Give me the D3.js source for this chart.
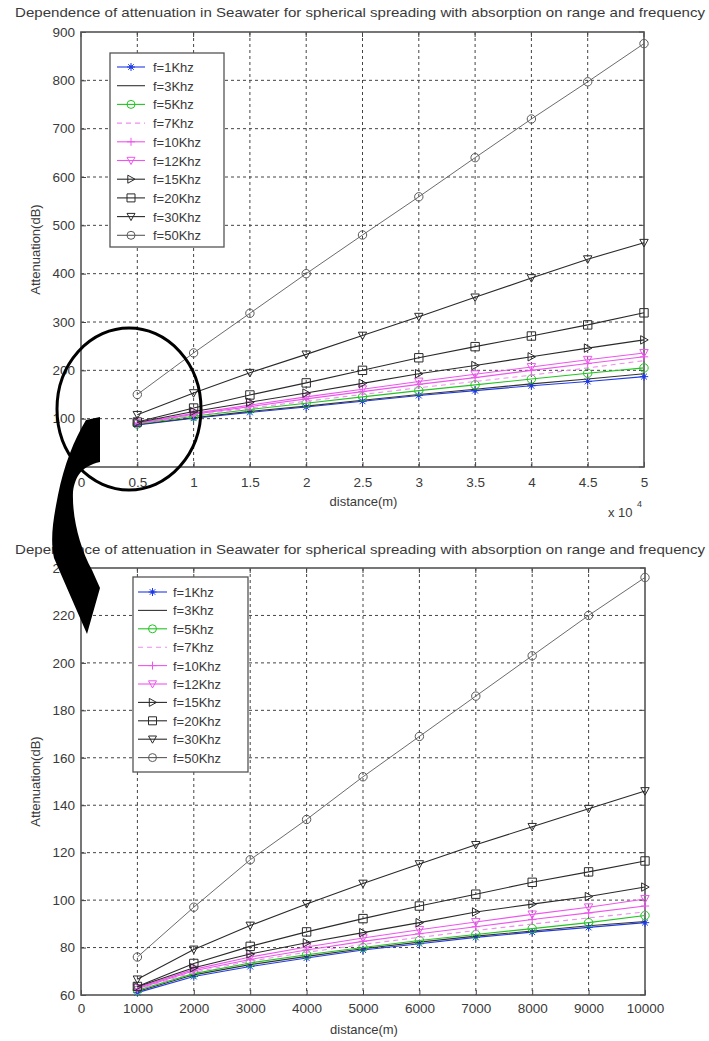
<!DOCTYPE html>
<html>
<head>
<meta charset="utf-8">
<script src="https://cdn.jsdelivr.net/npm/d3@7/dist/d3.min.js"></script>
<style>
  html, body { margin: 0; padding: 0; background: #fff; }
  svg { display: block; }
  text { font-family: "Liberation Sans", Arial, sans-serif; fill: #3a3a3a; }
</style>
</head>
<body>
<script>
// ---- data ----
const titleText = "Dependence of attenuation in Seawater for spherical spreading with absorption on range and frequency";
const freqLabels = ["f=1Khz", "f=3Khz", "f=5Khz", "f=7Khz", "f=10Khz", "f=12Khz", "f=15Khz", "f=20Khz", "f=30Khz", "f=50Khz"];

// upper panel: range 5 km .. 50 km
const topDistance = [5000, 10000, 15000, 20000, 25000, 30000, 35000, 40000, 45000, 50000];
const topF1  = [87, 101, 113, 124, 136, 148, 158, 168, 177, 187];
const topF3  = [88, 102, 115, 126, 138, 150, 161, 172, 182, 193];
const topF5  = [89, 105, 119, 132, 145, 158, 170, 182, 194, 205];
const topF7  = [90, 107, 122, 136, 150, 164, 177, 190, 205, 220];
const topF10 = [90, 109, 125, 141, 156, 171, 185, 200, 214, 228];
const topF12 = [91, 111, 128, 145, 161, 177, 192, 207, 222, 236];
const topF15 = [92, 115, 134, 153, 173, 193, 210, 228, 246, 263];
const topF20 = [93, 122, 149, 174, 200, 226, 249, 271, 294, 319];
const topF30 = [108, 153, 195, 233, 272, 311, 351, 391, 430, 464];
const topF50 = [150, 236, 318, 400, 480, 559, 640, 720, 797, 876];
const topXTicks = [0, 5000, 10000, 15000, 20000, 25000, 30000, 35000, 40000, 45000, 50000];
const topYTicks = [0, 100, 200, 300, 400, 500, 600, 700, 800, 900];

// lower panel: range 1 km .. 10 km
const bottomDistance = [1000, 2000, 3000, 4000, 5000, 6000, 7000, 8000, 9000, 10000];
const botF1  = [61, 67.8, 72, 75.6, 79, 81.6, 84.3, 86.5, 88.5, 90.5];
const botF3  = [61.5, 68.5, 72.8, 76.3, 79.5, 82.3, 84.8, 87.0, 89.2, 91];
const botF5  = [62, 69, 73.5, 77, 80, 83, 85.5, 88, 90.5, 93.5];
const botF7  = [62.3, 69.6, 74.3, 78, 81.3, 84.3, 87.2, 89.9, 92.5, 95];
const botF10 = [62.6, 70.2, 75, 79, 82.6, 85.8, 88.8, 91.8, 94.6, 97.5];
const botF12 = [63, 70.8, 76, 80.2, 84, 87.5, 90.8, 94, 97, 100.5];
const botF15 = [63.5, 71.5, 77.3, 82, 86.3, 90.5, 95, 98.3, 101.5, 105.5];
const botF20 = [63.6, 73.3, 80.5, 86.6, 92.2, 97.5, 102.5, 107.5, 111.9, 116.5];
const botF30 = [66.6, 79.2, 89.3, 98.4, 107, 115.2, 123.3, 130.9, 138.5, 146];
const botF50 = [76, 97, 117, 134, 152, 169, 186, 203, 220, 236];
const bottomXTicks = [0, 1000, 2000, 3000, 4000, 5000, 6000, 7000, 8000, 9000, 10000];
const bottomYTicks = [60, 80, 100, 120, 140, 160, 180, 200, 220, 240];

// ---- line styles (one per frequency) ----
const styles = [
  { color: "#1f3be8", marker: "star",  dash: null },
  { color: "#333333", marker: null,    dash: null },
  { color: "#22c422", marker: "circle", dash: null },
  { color: "#f08cf0", marker: null,    dash: "5,4" },
  { color: "#ee55ee", marker: "plus",  dash: null },
  { color: "#ee55ee", marker: "tridown", dash: null },
  { color: "#2a2a2a", marker: "triright", dash: null },
  { color: "#2a2a2a", marker: "square", dash: null },
  { color: "#2a2a2a", marker: "tridown", dash: null },
  { color: "#5a5a5a", marker: "circle", dash: null }
];

const W = 709, H = 1041;
const svg = d3.select("body").append("svg").attr("width", W).attr("height", H);

function markerPath(type, r) {
  switch (type) {
    case "circle": return d3.symbol(d3.symbolCircle, Math.PI * r * r)();
    case "square": return `M${-r},${-r}H${r}V${r}H${-r}Z`;
    case "plus": return `M${-r},0H${r}M0,${-r}V${r}`;
    case "star": return `M${-r},0H${r}M0,${-r}V${r}M${-r*0.7},${-r*0.7}L${r*0.7},${r*0.7}M${-r*0.7},${r*0.7}L${r*0.7},${-r*0.7}`;
    case "tridown": return `M${-r},${-r*0.8}H${r}L0,${r}Z`;
    case "triright": return `M${-r*0.8},${-r}V${r}L${r},0Z`;
  }
  return "";
}

function drawMarker(g, type, x, y, color, r) {
  if (!type) return;
  g.append("path")
    .attr("d", markerPath(type, r))
    .attr("transform", `translate(${x},${y})`)
    .attr("fill", type === "star" ? color : "none")
    .attr("stroke", color)
    .attr("stroke-width", 1);
  if (type === "star") {
    g.append("circle").attr("cx", x).attr("cy", y).attr("r", 1.8).attr("fill", color);
  }
}

function panel(cfg) {
  const g = svg.append("g");
  const x = d3.scaleLinear().domain(cfg.xDomain).range([cfg.left, cfg.right]);
  const y = d3.scaleLinear().domain(cfg.yDomain).range([cfg.bottom, cfg.top]);

  // title
  g.append("text")
    .attr("x", 15).attr("y", cfg.titleY)
    .attr("textLength", 690).attr("lengthAdjust", "spacingAndGlyphs")
    .style("font-size", "13px")
    .text(titleText);

  // grid
  const grid = g.append("g").attr("stroke", "#444").attr("stroke-width", 1)
    .attr("stroke-dasharray", "3,3");
  cfg.xTicks.slice(1, -1).forEach(t => {
    grid.append("line").attr("x1", x(t)).attr("x2", x(t))
      .attr("y1", cfg.top).attr("y2", cfg.bottom);
  });
  cfg.yTicks.slice(1, -1).forEach(t => {
    grid.append("line").attr("x1", cfg.left).attr("x2", cfg.right)
      .attr("y1", y(t)).attr("y2", y(t));
  });

  // axes
  const xAxis = d3.axisBottom(x).tickValues(cfg.xTicks).tickSize(-5).tickPadding(cfg.xPad)
    .tickFormat(cfg.xFormat);
  const yAxis = d3.axisLeft(y).tickValues(cfg.yTicks).tickSize(-5).tickPadding(6);
  const ax = g.append("g").attr("transform", `translate(0,${cfg.bottom})`).call(xAxis);
  const ay = g.append("g").attr("transform", `translate(${cfg.left},0)`).call(yAxis);
  [ax, ay].forEach(a => {
    a.select(".domain").remove();
    a.selectAll(".tick line").attr("stroke", "#444");
    a.selectAll(".tick text").style("font-size", "13.5px")
      .style("font-family", "'Liberation Sans', Arial, sans-serif").attr("fill", "#3a3a3a");
  });
  // top-side ticks and right-side ticks
  cfg.xTicks.forEach(t => g.append("line").attr("x1", x(t)).attr("x2", x(t))
    .attr("y1", cfg.top).attr("y2", cfg.top + 5).attr("stroke", "#444"));
  cfg.yTicks.forEach(t => g.append("line").attr("x1", cfg.right - 5).attr("x2", cfg.right)
    .attr("y1", y(t)).attr("y2", y(t)).attr("stroke", "#444"));

  // box
  g.append("rect").attr("x", cfg.left).attr("y", cfg.top)
    .attr("width", cfg.right - cfg.left).attr("height", cfg.bottom - cfg.top)
    .attr("fill", "none").attr("stroke", "#555").attr("stroke-width", 1.6);

  // axis labels
  g.append("text").attr("x", (cfg.left + cfg.right) / 2 + 1).attr("y", cfg.bottom + 39)
    .attr("text-anchor", "middle").style("font-size", "13px").text("distance(m)");
  g.append("text").attr("transform", `translate(40,${(cfg.top + cfg.bottom) / 2}) rotate(-90)`)
    .attr("text-anchor", "middle").style("font-size", "13px").text("Attenuation(dB)");

  // series
  const line = d3.line().x(d => x(d[0])).y(d => y(d[1]));
  cfg.series.forEach((vals, i) => {
    const st = styles[i];
    const pts = cfg.distance.map((d, k) => [d, vals[k]]);
    g.append("path").datum(pts).attr("d", line)
      .attr("fill", "none").attr("stroke", st.color)
      .attr("stroke-width", i === 9 ? 0.9 : 1.1)
      .attr("stroke-dasharray", st.dash);
    pts.forEach(p => drawMarker(g, st.marker, x(p[0]), y(p[1]), st.color, 4.2));
  });

  // legend
  const L = cfg.legend;
  g.append("rect").attr("x", L.x0).attr("y", L.y0).attr("width", L.x1 - L.x0)
    .attr("height", L.y1 - L.y0).attr("fill", "#fff").attr("stroke", "#555").attr("stroke-width", 1.3);
  freqLabels.forEach((lab, i) => {
    const st = styles[i];
    const yy = L.row0 + i * L.step;
    g.append("line").attr("x1", L.lx0).attr("x2", L.lx1).attr("y1", yy).attr("y2", yy)
      .attr("stroke", st.color).attr("stroke-width", 1.1).attr("stroke-dasharray", st.dash);
    drawMarker(g, st.marker, (L.lx0 + L.lx1) / 2, yy, st.color, 4);
    g.append("text").attr("x", L.tx).attr("y", yy + 5).style("font-size", "13px").text(lab);
  });
  return { x, y };
}

// upper panel
panel({
  left: 81, right: 644, top: 32, bottom: 467, titleY: 17, xPad: 10,
  xDomain: [0, 50000], yDomain: [0, 900],
  xTicks: topXTicks, yTicks: topYTicks,
  xFormat: d => d3.format("~g")(d / 10000),
  distance: topDistance,
  series: [topF1, topF3, topF5, topF7, topF10, topF12, topF15, topF20, topF30, topF50],
  legend: { x0: 110, x1: 224, y0: 53, y1: 247, row0: 67, step: 18.7, lx0: 117, lx1: 145, tx: 153 }
});
// axis multiplier
svg.append("text").attr("x", 608).attr("y", 517).style("font-size", "13px").text("x 10");
svg.append("text").attr("x", 637).attr("y", 507).style("font-size", "9px").text("4");

// lower panel
panel({
  left: 81, right: 645, top: 568, bottom: 995, titleY: 554, xPad: 8,
  xDomain: [0, 10000], yDomain: [60, 240],
  xTicks: bottomXTicks, yTicks: bottomYTicks,
  xFormat: d3.format("d"),
  distance: bottomDistance,
  series: [botF1, botF3, botF5, botF7, botF10, botF12, botF15, botF20, botF30, botF50],
  legend: { x0: 133, x1: 248, y0: 577, y1: 772, row0: 592, step: 18.4, lx0: 138, lx1: 167, tx: 173 }
});

// zoom annotation: ellipse around the short-range region and a curved arrow to the lower panel
svg.append("ellipse").attr("cx", 129).attr("cy", 409).attr("rx", 72).attr("ry", 81)
  .attr("fill", "none").attr("stroke", "#000").attr("stroke-width", 3);
svg.append("path")
  .attr("d", "M100,417 L86,420 C74,440 64,465 58,495 C53,520 50,540 54,558 L60,572 L87,634 L100,588 L92,570 C80,548 72,518 73,492 C75,476 82,466 100,462 Z")
  .attr("fill", "#000");
</script>
</body>
</html>
